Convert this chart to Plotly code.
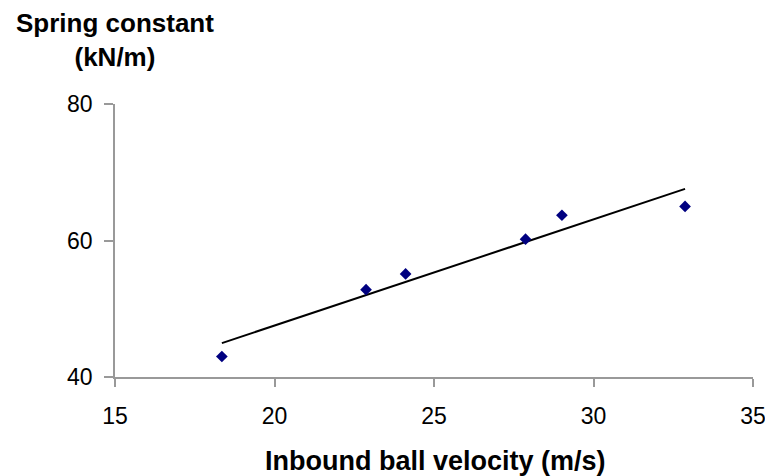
import numpy as np
import plotly.graph_objects as go

# Data
velocity = [18.35, 22.87, 24.11, 27.87, 29.01, 32.87]          # m/s
spring_constant = [43.0, 52.8, 55.1, 60.2, 63.7, 65.0]          # kN/m

x_ticks = [15, 20, 25, 30, 35]
y_ticks = [40, 60, 80]

x_title = "Inbound ball velocity (m/s)"
y_title = "Spring constant<br>(kN/m)"

# Linear trendline (least squares)
slope, intercept = np.polyfit(velocity, spring_constant, 1)
trend_x = [min(velocity), max(velocity)]
trend_y = [slope * v + intercept for v in trend_x]

FONT = "Liberation Sans, Arial, sans-serif"
AXIS_COLOR = "#999999"

fig = go.Figure()
fig.add_trace(go.Scatter(
    x=trend_x, y=trend_y, mode="lines",
    line=dict(color="black", width=2), showlegend=False, hoverinfo="skip",
))
fig.add_trace(go.Scatter(
    x=velocity, y=spring_constant, mode="markers",
    marker=dict(symbol="diamond", color="#000080", size=9,
                line=dict(width=0)),
    showlegend=False,
))

fig.update_layout(
    width=765, height=476,
    margin=dict(l=115, r=12, t=104, b=99, autoexpand=False),
    paper_bgcolor="white", plot_bgcolor="white",
    font=dict(family=FONT, color="black"),
    xaxis=dict(
        range=[15, 35], tickvals=x_ticks, ticktext=[str(t) for t in x_ticks],
        showgrid=False, zeroline=False, automargin=False,
        showline=True, linecolor=AXIS_COLOR, linewidth=1.5,
        ticks="outside", ticklen=8, tickcolor=AXIS_COLOR, tickwidth=1.5,
        tickfont=dict(size=23, family=FONT, color="black"),
        ticklabelstandoff=10, ticklabeloverflow="allow",
    ),
    yaxis=dict(
        range=[40, 80], tickvals=y_ticks, ticktext=[str(t) for t in y_ticks],
        showgrid=False, zeroline=False, automargin=False,
        showline=True, linecolor=AXIS_COLOR, linewidth=1.5,
        ticks="outside", ticklen=9, tickcolor=AXIS_COLOR, tickwidth=1.5,
        tickfont=dict(size=23, family=FONT, color="black"),
        ticklabelstandoff=7,
    ),
    annotations=[
        dict(text="<b>" + x_title + "</b>", xref="paper", yref="paper",
             x=0.503, y=-0.308, xanchor="center", yanchor="middle",
             showarrow=False, font=dict(size=27, family=FONT, color="black")),
        dict(text="<b>" + y_title + "</b>", xref="paper", yref="paper",
             x=0.0, y=1.235, xanchor="center", yanchor="middle", align="center",
             showarrow=False, font=dict(size=26, family=FONT, color="black")),
    ],
)

fig.write_html("out.html", config={"displayModeBar": False},
               post_script="document.body.style.margin='0px';document.body.style.overflow='hidden';")
